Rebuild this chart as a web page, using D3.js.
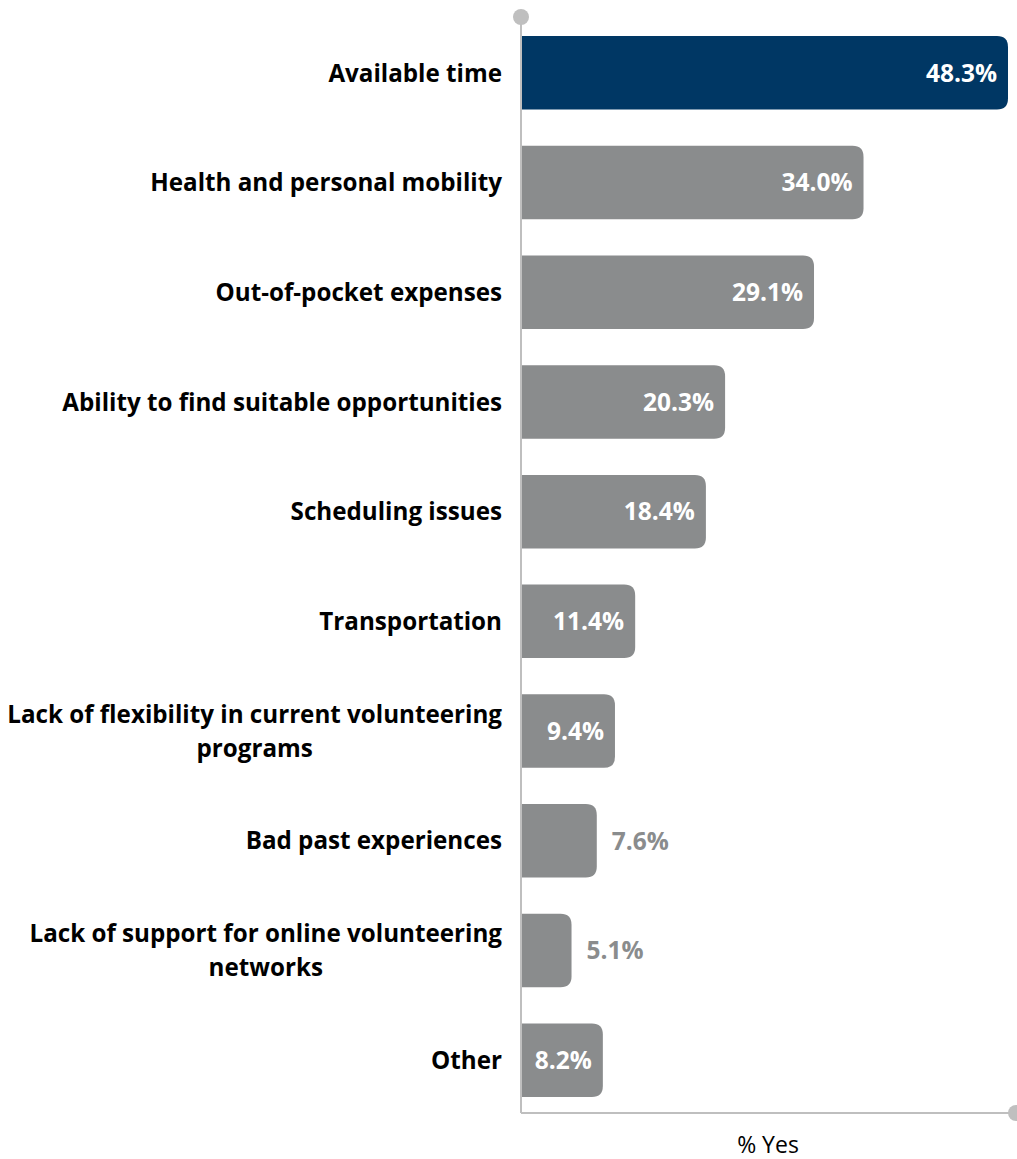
<!DOCTYPE html>
<html>
<head>
<meta charset="utf-8">
<script src="https://cdn.jsdelivr.net/npm/d3@7"></script>
<style>
  body { margin: 0; background: #fff; }
  text { font-family: "Open Sans", Lato, sans-serif; }
</style>
</head>
<body>
<div class="graphic"></div>
<script>
// chart data
const categories = [
  ["Available time"],
  ["Health and personal mobility"],
  ["Out-of-pocket expenses"],
  ["Ability to find suitable opportunities"],
  ["Scheduling issues"],
  ["Transportation"],
  ["Lack of flexibility in current volunteering", "programs"],
  ["Bad past experiences"],
  ["Lack of support for online volunteering", "networks"],
  ["Other"]
];
const values = [48.3, 34.0, 29.1, 20.3, 18.4, 11.4, 9.4, 7.6, 5.1, 8.2];
const insideLabel = [true, true, true, true, true, true, true, false, false, true];
const axisTitle = "% Yes";

const W = 1017, H = 1159;
const svg = d3.select(".graphic")
  .append("svg")
  .attr("width", W)
  .attr("height", H);

const x0 = 520;
const xScale = d3.scaleLinear()
  .domain([0, 48.3])
  .range([x0, 1008]);

const yScale = d3.scaleBand()
  .domain(d3.range(categories.length))
  .range([18, 1115])
  .paddingInner(0.33)
  .paddingOuter(0.165);

const data = values.map((v, i) => ({ i, v, label: categories[i], inside: insideLabel[i] }));

// bar path: square on the left, rounded on the right
const barPath = (x, y, w, h, r) => {
  r = Math.min(r, w, h / 2);
  return `M${x},${y} H${x + w - r} Q${x + w},${y} ${x + w},${y + r} V${y + h - r} Q${x + w},${y + h} ${x + w - r},${y + h} H${x} Z`;
};

const rows = svg.selectAll("g.row")
  .data(data)
  .join("g")
    .attr("class", "row");

rows.append("path")
  .attr("d", d => barPath(x0, yScale(d.i), xScale(d.v) - x0, yScale.bandwidth(), 11))
  .attr("fill", d => d.i === 0 ? "#003764" : "#8a8c8d");

rows.append("text")
  .text(d => d.v.toFixed(1) + "%")
  .attr("x", d => d.inside ? xScale(d.v) - 11 : xScale(d.v) + 15)
  .attr("y", d => yScale(d.i) + yScale.bandwidth() / 2)
  .attr("dy", "0.36em")
  .attr("text-anchor", d => d.inside ? "end" : "start")
  .attr("font-size", 24.5)
  .attr("font-weight", "bold")
  .attr("fill", d => d.inside ? "#ffffff" : "#8a8c8d");

// category labels, lines centered within a right-aligned block
const labelRight = 502;
const lineH = 34;
rows.each(function(d) {
  const g = d3.select(this);
  const cy = yScale(d.i) + yScale.bandwidth() / 2;
  const n = d.label.length;
  const t = g.selectAll("text.cat")
    .data(d.label)
    .join("text")
      .attr("class", "cat")
      .text(s => s)
      .attr("y", (s, k) => cy + (k - (n - 1) / 2) * lineH)
      .attr("dy", "0.36em")
      .attr("font-size", 24.2)
      .attr("font-weight", "bold")
      .attr("fill", "#000")
      .attr("text-anchor", "middle");
  let maxW = 0;
  t.each(function() { maxW = Math.max(maxW, this.getComputedTextLength()); });
  t.attr("x", labelRight - maxW / 2);
});

// axes
const axisColor = "#bfbfbf";
svg.append("line")
  .attr("x1", x0 + 1).attr("x2", x0 + 1)
  .attr("y1", 17).attr("y2", 1113)
  .attr("stroke", axisColor).attr("stroke-width", 2);
svg.append("line")
  .attr("x1", x0 + 1).attr("x2", 1015)
  .attr("y1", 1113).attr("y2", 1113)
  .attr("stroke", axisColor).attr("stroke-width", 2);
svg.append("circle")
  .attr("cx", x0 + 1).attr("cy", 17).attr("r", 8)
  .attr("fill", axisColor);
svg.append("circle")
  .attr("cx", 1016).attr("cy", 1113).attr("r", 8)
  .attr("fill", axisColor);

svg.append("text")
  .text(axisTitle)
  .attr("x", 768)
  .attr("y", 1153)
  .attr("text-anchor", "middle")
  .attr("font-size", 23)
  .attr("fill", "#000");
</script>
</body>
</html>
